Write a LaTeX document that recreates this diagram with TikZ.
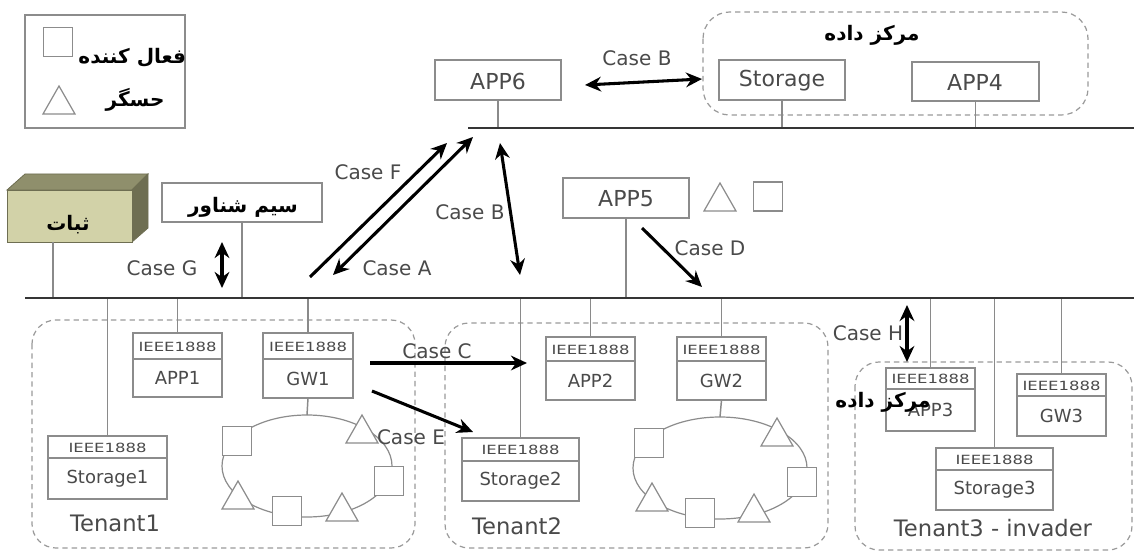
\documentclass[tikz,border=0pt]{standalone}
\usepackage{fontspec}
\usepackage{graphicx}
\setmainfont{DejaVu Sans}
\newfontfamily\fa[Script=Arabic]{DejaVu Sans}
\TeXXeTstate=1
\usetikzlibrary{arrows.meta,fit,shapes.geometric}
\definecolor{txt}{HTML}{4A4A4A}
\definecolor{bx}{HTML}{8C8C8C}
\definecolor{stemc}{HTML}{8A8A8A}
\definecolor{busc}{HTML}{353535}
\definecolor{dashc}{HTML}{9A9A9A}
\definecolor{khaki}{HTML}{D2D2A8}
\definecolor{khtop}{HTML}{8F8F6C}
\definecolor{khside}{HTML}{6E6E52}
\definecolor{shfill}{HTML}{A8A8A8}
\newcommand\fsz[1]{\fontsize{#1}{#1}\selectfont}
\newcommand\ieee[7]{%
  \node[box, fit={(#2,#3) (#4,#5)}] (#1) {};
  \draw[boxline] (#2,#6) -- (#4,#6);
  \node[hdr] at ({(#2+#4)/2},{(#3+#6)/2+0.5}) {\scalebox{1.3}[1]{IEEE1888}};
  \node[nlbl] at ({(#2+#4)/2},{(#6+#5)/2}) {#7};
}
\tikzset{
  shp/.style={draw=bx, line width=0.9pt, fill=white},
  tri/.pic={\path[shp,pic actions] (-16,14) -- (0,-14) -- (16,14) -- cycle;},
  sqp/.pic={\path[shp,pic actions] (-14.5,-14.5) rectangle (14.5,14.5);},
  gfill/.style={fill=shfill}
}
\begin{document}
\begin{tikzpicture}[x=0.75pt,y=-0.75pt,
  every node/.style={inner sep=0pt, outer sep=0pt},
  box/.style={draw=bx, line width=1.1pt, fill=white, inner sep=0pt},
  boxline/.style={draw=bx, line width=1pt},
  stem/.style={draw=stemc, line width=1.1pt},
  bus/.style={draw=busc, line width=1.9pt},
  tenant/.style={draw=dashc, line width=0.9pt, dash pattern=on 4pt off 3pt, rounded corners=18pt},
  arr/.style={line width=2.3pt, -{Stealth[length=12pt,width=11pt]}},
  darr/.style={line width=2.3pt, {Stealth[length=12pt,width=11pt]}-{Stealth[length=12pt,width=11pt]}},
  case/.style={text=txt, font=\fsz{15}},
  big/.style={text=txt, font=\fsz{16.5}},
  nlbl/.style={text=txt, font=\fsz{13.5}},
  hdr/.style={text=txt, font=\fsz{9.5}},
  ten/.style={text=txt, font=\fsz{17}},
  fatxt/.style={text=black, font=\fa\bfseries\fsz{15}},
  ring/.style={ellipse, draw=bx, line width=0.9pt, inner sep=0pt}
]
\useasboundingbox[fill=white] (0,0) rectangle (1134,552);

% legend
\node[fit={(25,15) (185,128)}, draw=bx, line width=1pt, inner sep=0pt] (legend) {};
\pic[] at (58,42) {sqp};
\pic[] at (59,100) {tri};
\node[fatxt, anchor=east] (lact) at (186,58) {\beginR فعال کننده\endR};
\node[fatxt] (lsen) at (135,100) {\beginR حسگر\endR};

% data centre group
\draw[tenant, rounded corners=20pt] (703,12) rectangle (1088,115);
\node[fatxt] (dctitle) at (872,35) {\beginR مرکز داده\endR};

% tenant groups
\draw[tenant] (32,320) rectangle (415,548);
\draw[tenant] (445,323) rectangle (828,548);
\draw[tenant] (855,362) rectangle (1132,550);

% buses
\coordinate (tbL) at (468,128);
\coordinate (tbR) at (1134,128);
\coordinate (bL) at (25,298);
\coordinate (bR) at (1134,298);

% top boxes
\node[box, fit={(435,60) (561,100)}] (app6) {};
\node[big] at (498,81) {APP6};
\node[box, fit={(719,60) (845,100)}] (stor) {};
\node[big] at (782,81) {Storage};
\node[box, fit={(912,62) (1039,101)}] (app4) {};
\node[big] at (975,82) {APP4};
\draw[stem] (app6.south) -- (app6.south |- tbL);
\draw[stem] (stor.south) -- (stor.south |- tbL);
\draw[stem] (app4.south) -- (app4.south |- tbL);
\draw[bus] (tbL) -- (tbR);

% permanent 3D box
\fill[khtop, draw=khside, line width=0.6pt] (7,190) -- (25,174) -- (148,174) -- (132,190) -- cycle;
\fill[khside, draw=khside, line width=0.6pt] (132,190) -- (148,174) -- (148,228) -- (132,242) -- cycle;
\node[fit={(7,190) (132,242)}, fill=khaki, draw=khside, line width=0.6pt, inner sep=0pt] (perm) {};
\node[fatxt] (permt) at (68,225) {\beginR ثبات\endR};

% floating wire
\node[box, fit={(162,183) (322,222)}] (fw) {};
\node[fatxt] (fwt) at (243,207) {\beginR سیم شناور\endR};

% APP5 and its symbols
\node[box, fit={(563,178) (689,218)}] (app5) {};
\node[big] at (626,199) {APP5};
\pic at (720,197) {tri};
\pic at (768,196.5) {sqp};

% stems from upper parts to main bus
\draw[stem] (perm.south -| 53,0) -- (53,298);
\draw[stem] (fw.south) -- (fw.south |- bL);
\draw[stem] (app5.south) -- (app5.south |- bL);

% IEEE boxes
\ieee{app1}{133}{333}{222}{397}{359}{APP1}
\ieee{gw1}{263}{333}{353}{398}{359}{GW1}
\ieee{st1}{48}{436}{167}{499}{458}{Storage1}
\ieee{app2}{546}{337}{635}{400}{361}{APP2}
\ieee{gw2}{677}{337}{766}{400}{361}{GW2}
\ieee{st2}{462}{438}{579}{501}{461}{Storage2}
\ieee{app3}{886}{368}{975}{431}{389}{APP3}
\ieee{gw3}{1017}{374}{1106}{436}{396}{GW3}
\ieee{st3}{936}{448}{1053}{510}{470}{Storage3}

\foreach \n in {app1,gw1,st1,app2,gw2,st2,app3,gw3,st3}
  \draw[stem] (\n.north) -- (\n.north |- bL);
\draw[bus] (bL) -- (bR);

% rings
\node[ring, minimum width=127.5pt, minimum height=76.5pt] (ring1) at (307,466) {};
\node[ring, minimum width=130.5pt, minimum height=76.5pt] (ring2) at (720,468) {};
\draw[stem] (gw1.south) -- (ring1.north);
\draw[stem] (gw2.south) -- (ring2.north);

\pic at (237,441) {sqp};
\pic at (362,429) {tri};
\pic at (389,481) {sqp};
\pic at (342,507) {tri};
\pic at (287,511) {sqp};
\pic at (238,495) {tri};

\pic[gfill] at (649,443) {sqp};
\pic[gfill] at (777,432) {tri};
\pic[gfill] at (802,482) {sqp};
\pic[gfill] at (754,508) {tri};
\pic[gfill] at (700,513) {sqp};
\pic[gfill] at (652,497) {tri};

% tenant labels
\node[ten] at (115,523) {Tenant1};
\node[ten] at (517,526) {Tenant2};
\node[ten] at (993,528) {Tenant3 - invader};

% case arrows
\coordinate (bTa) at (585,85);  \coordinate (bTb) at (702,79);
\coordinate (fA) at (310,277);  \coordinate (fB) at (447,143);
\coordinate (aA) at (473,137);  \coordinate (aB) at (333,275);
\coordinate (bMa) at (500,143); \coordinate (bMb) at (520,275);
\coordinate (gA) at (222,242);  \coordinate (gB) at (222,288);
\coordinate (dA) at (642,228);  \coordinate (dB) at (702,287);
\coordinate (cA) at (370,363);  \coordinate (cB) at (527,363);
\coordinate (eA) at (372,391);  \coordinate (eB) at (473,432);
\coordinate (hA) at (907,305);  \coordinate (hB) at (907,362);
\draw[darr] (bTa) -- (bTb);
\draw[arr] (fA) -- (fB);
\draw[darr] (aA) -- (aB);
\draw[darr] (bMa) -- (bMb);
\draw[darr] (gA) -- (gB);
\draw[arr] (dA) -- (dB);
\draw[arr] (cA) -- (cB);
\draw[arr] (eA) -- (eB);
\draw[darr] (hA) -- (hB);

\node[case] at (637,58) {Case B};
\node[case] at (368,172) {Case F};
\node[case] at (397,268) {Case A};
\node[case] at (470,212) {Case B};
\node[case] at (162,268) {Case G};
\node[case] at (710,248) {Case D};
\node[case] at (437,351) {Case C};
\node[case] at (411,437) {Case E};
\node[case] at (868,333) {Case H};

% overlaid label
\node[fatxt] (dc2) at (883,402) {\beginR مرکز داده\endR};
\end{tikzpicture}
\end{document}
